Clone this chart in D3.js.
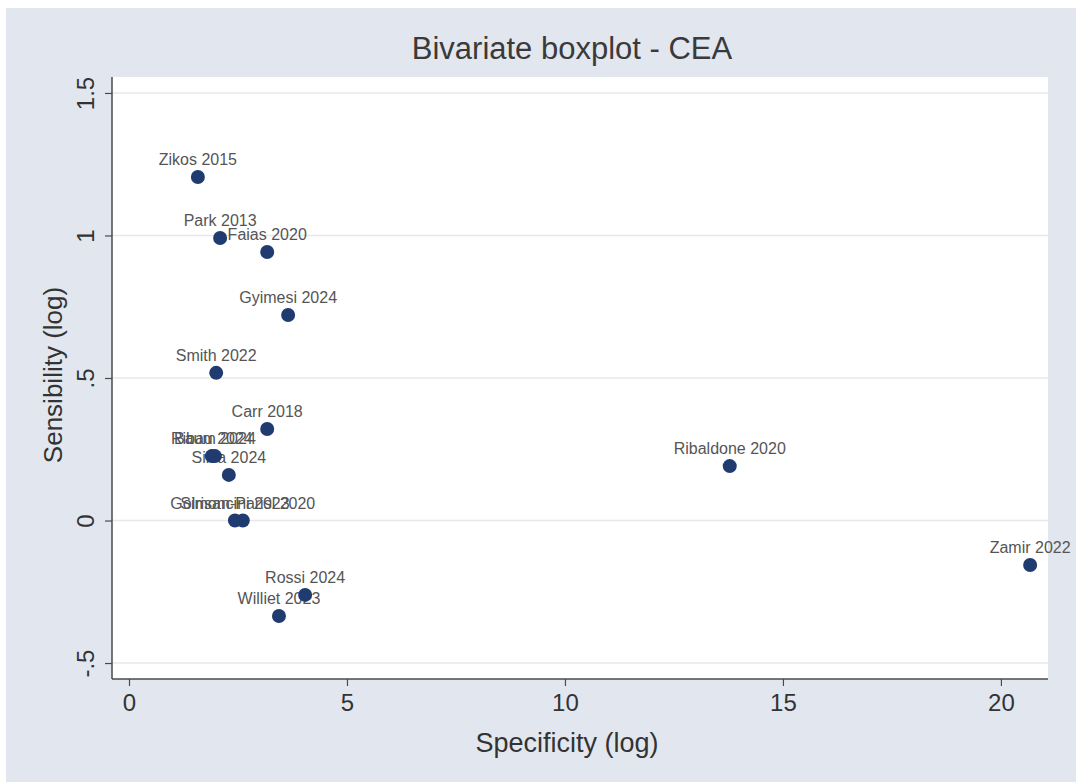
<!DOCTYPE html>
<html>
<head>
<meta charset="utf-8">
<script src="https://cdn.jsdelivr.net/npm/d3@7"></script>
<style>
  body { margin: 0; background: #fff; }
  text { font-family: Arial, "Liberation Sans", sans-serif; }
</style>
</head>
<body>
<div id="chart"></div>
<script>
(function () {

    // study labels and their (log) specificity / sensibility
    const studies = [
        "Zikos 2015", "Park 2013", "Faias 2020", "Gyimesi 2024", "Smith 2022",
        "Carr 2018", "Ribau 2024", "Baum 2024", "Silva 2024", "Simoncini 2023",
        "Golrisan-Parisi 2020", "Ribaldone 2020", "Zamir 2022", "Rossi 2024", "Williet 2023"
    ];
    const specificity = [
        1.58, 2.09, 3.17, 3.65, 2.00,
        3.17, 1.90, 1.97, 2.29, 2.43,
        2.61, 13.78, 20.67, 4.04, 3.44
    ];
    const sensibility = [
        1.205, 0.991, 0.942, 0.721, 0.518,
        0.321, 0.226, 0.226, 0.160, 0.0,
        0.0, 0.191, -0.156, -0.261, -0.335
    ];
    const xTicks = [0, 5, 10, 15, 20];
    const yTicks = [-0.5, 0, 0.5, 1, 1.5];
    const yTickLabels = ["-.5", "0", ".5", "1", "1.5"];

    const W = 1076, H = 782;
    const plot = { left: 112, right: 1048, top: 77, bottom: 679 };

    const svg = d3.select("#chart")
        .append("svg")
        .attr("width", W)
        .attr("height", H);

    // graph region
    svg.append("rect")
        .attr("x", 6).attr("y", 8)
        .attr("width", W - 6).attr("height", H - 8)
        .attr("fill", "#e2e7ef");

    // plot region
    svg.append("rect")
        .attr("x", plot.left).attr("y", plot.top)
        .attr("width", plot.right - plot.left)
        .attr("height", plot.bottom - plot.top)
        .attr("fill", "#ffffff");

    const x = d3.scaleLinear()
        .domain([-0.39, 21.08])
        .range([plot.left, plot.right]);

    const y = d3.scaleLinear()
        .domain([-0.556, 1.556])
        .range([plot.bottom, plot.top]);

    // horizontal grid
    svg.append("g")
        .selectAll("line")
        .data(yTicks)
        .enter()
        .append("line")
        .attr("x1", plot.left)
        .attr("x2", plot.right)
        .attr("y1", d => y(d))
        .attr("y2", d => y(d))
        .attr("stroke", "#e6e8ea")
        .attr("stroke-width", 1.5);

    // x axis
    const xAxis = svg.append("g")
        .attr("transform", `translate(0,${plot.bottom})`)
        .call(d3.axisBottom(x).tickValues(xTicks).tickSize(7).tickSizeOuter(0).tickPadding(8));

    xAxis.select(".domain")
        .attr("d", `M${plot.left},0H${plot.right}`)
        .attr("stroke", "#4a4a4a")
        .attr("stroke-width", 1.5);
    xAxis.selectAll(".tick line").attr("stroke", "#4a4a4a").attr("stroke-width", 1.2);
    xAxis.selectAll(".tick text")
        .attr("fill", "#333")
        .style("font-size", "24px");

    // y axis
    const yAxis = svg.append("g")
        .attr("transform", `translate(${plot.left},0)`)
        .call(d3.axisLeft(y).tickValues(yTicks).tickSize(7).tickSizeOuter(0)
            .tickFormat((d, i) => yTickLabels[i]));

    yAxis.select(".domain")
        .attr("d", `M0,${plot.top}V${plot.bottom}`)
        .attr("stroke", "#4a4a4a")
        .attr("stroke-width", 1.5);
    yAxis.selectAll(".tick line").attr("stroke", "#4a4a4a").attr("stroke-width", 1.2);
    yAxis.selectAll(".tick text")
        .attr("fill", "#333")
        .attr("x", null).attr("dy", null)
        .attr("text-anchor", "middle")
        .attr("transform", "translate(-18,0) rotate(-90)")
        .style("font-size", "24px");

    // titles
    svg.append("text")
        .attr("x", 572)
        .attr("y", 59)
        .attr("text-anchor", "middle")
        .attr("fill", "#3a3a3a")
        .style("font-size", "31px")
        .text("Bivariate boxplot - CEA");

    svg.append("text")
        .attr("x", 567)
        .attr("y", 752)
        .attr("text-anchor", "middle")
        .attr("fill", "#333")
        .style("font-size", "27px")
        .text("Specificity (log)");

    svg.append("text")
        .attr("transform", `translate(62,${(plot.top + plot.bottom) / 2 - 3}) rotate(-90)`)
        .attr("text-anchor", "middle")
        .attr("fill", "#333")
        .style("font-size", "26px")
        .text("Sensibility (log)");

    const data = studies.map((s, i) => ({ name: s, sx: specificity[i], sy: sensibility[i] }));

    // marker labels (above, centred)
    svg.append("g")
        .selectAll("text")
        .data(data)
        .enter()
        .append("text")
        .attr("x", d => x(d.sx))
        .attr("y", d => y(d.sy) - 12)
        .attr("text-anchor", "middle")
        .attr("fill", "#555")
        .style("font-size", "16px")
        .text(d => d.name);

    // markers
    svg.append("g")
        .selectAll("circle")
        .data(data)
        .enter()
        .append("circle")
        .attr("cx", d => x(d.sx))
        .attr("cy", d => y(d.sy))
        .attr("r", 7)
        .attr("fill", "#1f3b70");

})();
</script>
</body>
</html>
